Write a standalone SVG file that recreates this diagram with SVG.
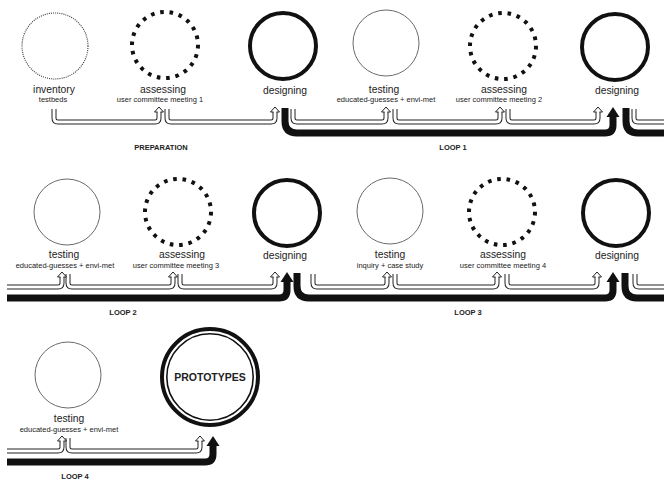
<svg xmlns="http://www.w3.org/2000/svg" width="664" height="483" viewBox="0 0 664 483">
<style>
text{font-family:"Liberation Sans",Arial,sans-serif;fill:#222;text-anchor:middle}
.m{font-size:10.3px}
.s{font-size:7.5px}
.p{font-size:7.5px;font-weight:bold}
.big{font-size:10.5px;font-weight:bold}
.dot{fill:none;stroke:#333;stroke-width:1.1;stroke-dasharray:1 1.1}
.dash{fill:none;stroke:#111;stroke-width:4;stroke-dasharray:3.6 5.8}
.thin{fill:none;stroke:#444;stroke-width:0.8}
.thick{fill:none;stroke:#111;stroke-width:4}
.wo{fill:none;stroke:#222;stroke-width:5}
.wi{fill:none;stroke:#fff;stroke-width:3}
.wh{fill:#fff;stroke:#222;stroke-width:1}
.bk{fill:none;stroke:#111;stroke-width:7}
.bh{fill:#111}
</style>
<defs>
<path id="wa1" d="M54,109 V118 Q54,122 58,122 H155 Q159,122 159,118 V112"/>
<path id="wa2" d="M167,109 V118 Q167,122 171,122 H271 Q275,122 275,118 V112"/>
<path id="wa3" d="M293,109 V118 Q293,122 297,122 H382 Q386,122 386,118 V112"/>
<path id="wa4" d="M395,109 V118 Q395,122 399,122 H496 Q500,122 500,118 V112"/>
<path id="wa5" d="M508,109 V118 Q508,122 512,122 H594 Q598,122 598,118 V112"/>
<path id="wa6" d="M634,109 V118 Q634,122 638,122 H664"/>
<path id="wb1" d="M7,287 H58 Q62,287 62,283 V277"/>
<path id="wb2" d="M68,274 V283 Q68,287 72,287 H169 Q173,287 173,283 V277"/>
<path id="wb3" d="M180,274 V283 Q180,287 184,287 H271 Q275,287 275,283 V277"/>
<path id="wb4" d="M313,274 V283 Q313,287 317,287 H383 Q387,287 387,283 V277"/>
<path id="wb5" d="M395,274 V283 Q395,287 399,287 H493 Q497,287 497,283 V277"/>
<path id="wb6" d="M507,274 V283 Q507,287 511,287 H593 Q597,287 597,283 V277"/>
<path id="wb7" d="M635,274 V283 Q635,287 639,287 H664"/>
<path id="wc1" d="M7,451 H58 Q62,451 62,447 V441"/>
<path id="wc2" d="M68,438 V447 Q68,451 72,451 H196 Q200,451 200,447 V441"/>
</defs>

<g id="inventory">
<circle class="dot" cx="55" cy="46" r="33"/>
<text class="m" x="54" y="93">inventory</text>
<text class="s" x="53" y="102">testbeds</text>
</g>
<g id="assessing-1">
<circle class="dash" cx="165" cy="45" r="33"/>
<text class="m" x="163" y="93">assessing</text>
<text class="s" x="160" y="102">user committee meeting 1</text>
</g>
<g id="designing-1">
<circle class="thick" cx="283" cy="46" r="33"/>
<text class="m" x="285" y="94">designing</text>
</g>
<g id="testing-1">
<circle class="thin" cx="386" cy="43" r="33"/>
<text class="m" x="384" y="93">testing</text>
<text class="s" x="386" y="102">educated-guesses + envi-met</text>
</g>
<g id="assessing-2">
<circle class="dash" cx="503" cy="46" r="33"/>
<text class="m" x="504" y="93">assessing</text>
<text class="s" x="499" y="102">user committee meeting 2</text>
</g>
<g id="designing-2">
<circle class="thick" cx="615" cy="47" r="33"/>
<text class="m" x="617" y="94">designing</text>
</g>

<g id="testing-2">
<circle class="thin" cx="67" cy="212" r="33"/>
<text class="m" x="64" y="258">testing</text>
<text class="s" x="65" y="268">educated-guesses + envi-met</text>
</g>
<g id="assessing-3">
<circle class="dash" cx="178" cy="212" r="33"/>
<text class="m" x="182" y="258">assessing</text>
<text class="s" x="176" y="268">user committee meeting 3</text>
</g>
<g id="designing-3">
<circle class="thick" cx="287" cy="213" r="33"/>
<text class="m" x="285" y="259">designing</text>
</g>
<g id="testing-3">
<circle class="thin" cx="390" cy="211" r="33"/>
<text class="m" x="390" y="258">testing</text>
<text class="s" x="390" y="268">inquiry + case study</text>
</g>
<g id="assessing-4">
<circle class="dash" cx="502" cy="212" r="33"/>
<text class="m" x="503" y="258">assessing</text>
<text class="s" x="503" y="268">user committee meeting 4</text>
</g>
<g id="designing-4">
<circle class="thick" cx="616" cy="213" r="33"/>
<text class="m" x="617" y="259">designing</text>
</g>

<g id="testing-4">
<circle class="thin" cx="68" cy="375" r="33"/>
<text class="m" x="69" y="422">testing</text>
<text class="s" x="69" y="432">educated-guesses + envi-met</text>
</g>
<g id="prototypes">
<circle fill="none" stroke="#111" stroke-width="4" cx="210" cy="377" r="48"/>
<circle fill="none" stroke="#111" stroke-width="1.6" cx="210" cy="377" r="43.2"/>
<text class="big" x="210" y="381">PROTOTYPES</text>
</g>

<g id="connectors">
<g>
<use href="#wa1" class="wo"/><use href="#wa1" class="wi"/>
<use href="#wa2" class="wo"/><use href="#wa2" class="wi"/>
<use href="#wa3" class="wo"/><use href="#wa3" class="wi"/>
<use href="#wa4" class="wo"/><use href="#wa4" class="wi"/>
<use href="#wa5" class="wo"/><use href="#wa5" class="wi"/>
<use href="#wa6" class="wo"/><use href="#wa6" class="wi"/>
<use href="#wb1" class="wo"/><use href="#wb1" class="wi"/>
<use href="#wb2" class="wo"/><use href="#wb2" class="wi"/>
<use href="#wb3" class="wo"/><use href="#wb3" class="wi"/>
<use href="#wb4" class="wo"/><use href="#wb4" class="wi"/>
<use href="#wb5" class="wo"/><use href="#wb5" class="wi"/>
<use href="#wb6" class="wo"/><use href="#wb6" class="wi"/>
<use href="#wb7" class="wo"/><use href="#wb7" class="wi"/>
<use href="#wc1" class="wo"/><use href="#wc1" class="wi"/>
<use href="#wc2" class="wo"/><use href="#wc2" class="wi"/>
</g>
<g class="wh">
<path d="M157.5,112 H154.5 L159,107 L163.5,112 H160.5"/>
<path d="M273.5,112 H270.5 L275,107 L279.5,112 H276.5"/>
<path d="M384.5,112 H381.5 L386,107 L390.5,112 H387.5"/>
<path d="M498.5,112 H495.5 L500,107 L504.5,112 H501.5"/>
<path d="M596.5,112 H593.5 L598,107 L602.5,112 H599.5"/>
<path d="M60.5,277 H57.5 L62,272 L66.5,277 H63.5"/>
<path d="M171.5,277 H168.5 L173,272 L177.5,277 H174.5"/>
<path d="M273.5,277 H270.5 L275,272 L279.5,277 H276.5"/>
<path d="M385.5,277 H382.5 L387,272 L391.5,277 H388.5"/>
<path d="M495.5,277 H492.5 L497,272 L501.5,277 H498.5"/>
<path d="M595.5,277 H592.5 L597,272 L601.5,277 H598.5"/>
<path d="M60.5,441 H57.5 L62,436 L66.5,441 H63.5"/>
<path d="M198.5,441 H195.5 L200,436 L204.5,441 H201.5"/>
</g>
<g class="bk">
<path d="M285,108 V121 Q285,133 297,133 H605 Q613,133 613,125 V116"/>
<path d="M626,108 V121 Q626,133 638,133 H664"/>
<path d="M7,298 H279 Q287,298 287,290 V281"/>
<path d="M297,273 V286 Q297,298 309,298 H605 Q613,298 613,290 V281"/>
<path d="M625,273 V286 Q625,298 637,298 H664"/>
<path d="M7,462 H205 Q213,462 213,454 V445"/>
</g>
<g class="bh">
<polygon points="606.5,117 613,107 619.5,117"/>
<polygon points="280.5,282 287,272 293.5,282"/>
<polygon points="606.5,282 613,272 619.5,282"/>
<polygon points="206.5,446 213,436 219.5,446"/>
</g>
</g>

<text class="p" x="161" y="150">PREPARATION</text>
<text class="p" x="453" y="150">LOOP 1</text>
<text class="p" x="123" y="315">LOOP 2</text>
<text class="p" x="468" y="315">LOOP 3</text>
<text class="p" x="75" y="479">LOOP 4</text>
</svg>
